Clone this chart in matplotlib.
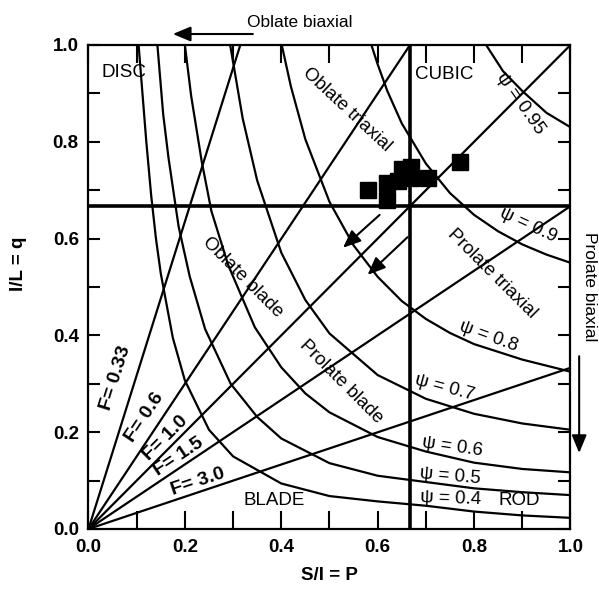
import matplotlib
matplotlib.use("Agg")
import matplotlib.pyplot as plt
import numpy as np

plt.rcParams['font.family'] = ['Liberation Sans', 'DejaVu Sans']

# ---- data (p = S/I, q = I/L) ----
psi40_p = [0.104, 0.12, 0.13, 0.14, 0.15, 0.175, 0.2, 0.25, 0.3, 0.4, 0.5, 0.6, 0.7, 0.8, 0.9, 1.0]
psi40_q = [1.0, 0.80, 0.69, 0.60, 0.528, 0.395, 0.307, 0.205, 0.150, 0.094, 0.068, 0.057, 0.048, 0.036, 0.028, 0.023]

psi50_p = [0.143, 0.155, 0.166, 0.187, 0.21, 0.242, 0.295, 0.35, 0.4, 0.5, 0.6, 0.7, 0.8, 0.9, 1.0]
psi50_q = [1.0, 0.857, 0.767, 0.625, 0.522, 0.413, 0.300, 0.2315, 0.187, 0.136, 0.110, 0.097, 0.084, 0.076, 0.070]

psi60_p = [0.200, 0.213, 0.235, 0.255, 0.29, 0.345, 0.4, 0.45, 0.5, 0.6, 0.7, 0.8, 0.9, 1.0]
psi60_q = [1.0, 0.895, 0.759, 0.657, 0.545, 0.417, 0.334, 0.280, 0.241, 0.190, 0.160, 0.137, 0.124, 0.117]

psi70_p = [0.294, 0.32, 0.35, 0.4, 0.45, 0.5, 0.6, 0.7, 0.8, 0.9, 1.0]
psi70_q = [1.0, 0.848, 0.720, 0.571, 0.473, 0.404, 0.318, 0.269, 0.238, 0.218, 0.205]

psi80_p = [0.401, 0.42, 0.45, 0.5, 0.55, 0.6, 0.65, 0.7, 0.75, 0.8, 0.9, 1.0]
psi80_q = [1.0, 0.914, 0.805, 0.676, 0.586, 0.521, 0.471, 0.434, 0.405, 0.382, 0.350, 0.325]

psi90_p = [0.587, 0.6, 0.62, 0.65, 0.7, 0.75, 0.8, 0.85, 0.9, 0.95, 1.0]
psi90_q = [1.0, 0.960, 0.905, 0.838, 0.755, 0.694, 0.649, 0.615, 0.588, 0.567, 0.550]

psi95_p = [0.825, 0.86, 0.9, 0.95, 1.0]
psi95_q = [1.0, 0.946, 0.905, 0.860, 0.830]

psi_curves = [(psi40_p, psi40_q), (psi50_p, psi50_q), (psi60_p, psi60_q), (psi70_p, psi70_q),
              (psi80_p, psi80_q), (psi90_p, psi90_q), (psi95_p, psi95_q)]

# shape-factor lines F from origin to end points
F_labels = ["F= 0.33", "F= 0.6", "F= 1.0", "F= 1.5", "F= 3.0"]
F_end_p = [0.315, 0.667, 1.0, 1.0, 1.0]
F_end_q = [1.0, 1.0, 1.0, 0.667, 0.333]

# class boundaries
boundary = 2.0 / 3.0

# measured particles
pts_p = [0.770, 0.704, 0.619, 0.643, 0.619, 0.579, 0.650, 0.669, 0.669]
pts_q = [0.758, 0.725, 0.715, 0.719, 0.680, 0.700, 0.744, 0.748, 0.725]

# trend arrows (start -> end)
arr_p0 = [0.604, 0.662]
arr_q0 = [0.649, 0.603]
arr_p1 = [0.528, 0.579]
arr_q1 = [0.581, 0.525]

x_ticks = [0.0, 0.2, 0.4, 0.6, 0.8, 1.0]
x_tick_labels = ["0.0", "0.2", "0.4", "0.6", "0.8", "1.0"]
y_ticks = [0.0, 0.2, 0.4, 0.6, 0.8, 1.0]
y_tick_labels = ["0.0", "0.2", "0.4", "0.6", "0.8", "1.0"]
minor_ticks = [0.1, 0.3, 0.5, 0.7, 0.9]

# ---- figure ----
fig = plt.figure(figsize=(5.99, 5.89), dpi=100)
ax = fig.add_axes([0.1477, 0.1019, 0.8047, 0.8217])
ax.set_xlim(0, 1)
ax.set_ylim(0, 1)

lw = 1.6
for cp, cq in psi_curves:
    ax.plot(cp, cq, color='k', lw=lw, solid_joinstyle='round')

for ep, eq in zip(F_end_p, F_end_q):
    ax.plot([0, ep], [0, eq], color='k', lw=lw)

ax.axhline(boundary, color='k', lw=2.6)
ax.axvline(boundary, color='k', lw=2.6)

ax.plot(pts_p, pts_q, linestyle='none', marker='s', markersize=11,
        markerfacecolor='k', markeredgecolor='k', zorder=5)

head = dict(arrowstyle='-|>,head_length=0.6,head_width=0.25', color='k', lw=1.5,
            mutation_scale=18, shrinkA=0, shrinkB=0)
for a, b, c, d in zip(arr_p0, arr_q0, arr_p1, arr_q1):
    ax.annotate('', xy=(c, d), xytext=(a, b), arrowprops=head)

# outside arrows
ax.annotate('', xy=(0.175, 1.0227), xytext=(0.341, 1.0227), arrowprops=head,
            annotation_clip=False)
ax.annotate('', xy=(1.018, 0.157), xytext=(1.018, 0.357), arrowprops=head,
            annotation_clip=False)
ax.text(0.3285, 1.0475, "Oblate biaxial", fontsize=12.5, ha='left', va='center',
        clip_on=False)
ax.text(1.04, 0.50, "Prolate biaxial", fontsize=12.5, ha='center', va='center',
        rotation=-90, clip_on=False)

# ticks
ax.set_xticks(x_ticks)
ax.set_xticklabels(x_tick_labels, fontsize=13.5, fontweight='bold')
ax.set_yticks(y_ticks)
ax.set_yticklabels(y_tick_labels, fontsize=13.5, fontweight='bold')
ax.set_xticks(minor_ticks, minor=True)
ax.set_yticks(minor_ticks, minor=True)
ax.tick_params(axis='x', which='both', direction='in', length=13, width=1.5,
               top=True, bottom=True, pad=7)
ax.tick_params(axis='y', which='both', direction='in', length=8.5, width=1.5,
               left=True, right=True, pad=7)
for s in ax.spines.values():
    s.set_linewidth(1.6)

ax.set_xlabel("S/I = P", fontsize=13.5, fontweight='bold', labelpad=8)
ax.text(-0.145, 0.547, "I/L = q", fontsize=13.5, fontweight='bold', rotation=90,
        ha='center', va='center', transform=ax.transAxes)

# region labels
fs = 13.5
ax.text(0.028, 0.944, "DISC", fontsize=fs, ha='left', va='center')
ax.text(0.677, 0.939, "CUBIC", fontsize=fs, ha='left', va='center')
ax.text(0.385, 0.058, "BLADE", fontsize=fs, ha='center', va='center')
ax.text(0.893, 0.059, "ROD", fontsize=fs, ha='center', va='center')
ax.text(0.537, 0.866, "Oblate triaxial", fontsize=fs, ha='center', va='center', rotation=-43)
ax.text(0.319, 0.521, "Oblate blade", fontsize=fs, ha='center', va='center', rotation=-45)
ax.text(0.524, 0.305, "Prolate blade", fontsize=fs, ha='center', va='center', rotation=-45)
ax.text(0.837, 0.528, "Prolate triaxial", fontsize=fs, ha='center', va='center', rotation=-45)

# psi labels
psi_text = ["ψ = 0.4", "ψ = 0.5", "ψ = 0.6", "ψ = 0.7", "ψ = 0.8", "ψ = 0.9", "ψ = 0.95"]
psi_lp = [0.751, 0.751, 0.755, 0.739, 0.830, 0.913, 0.896]
psi_lq = [0.062, 0.109, 0.169, 0.291, 0.397, 0.628, 0.880]
psi_rot = [-2, -5, -8, -15, -20, -25, -55]
for t, a, b, r in zip(psi_text, psi_lp, psi_lq, psi_rot):
    ax.text(a, b, t, fontsize=fs, ha='center', va='center', rotation=r)

# F labels
F_lp = [0.057, 0.117, 0.159, 0.187, 0.228]
F_lq = [0.312, 0.231, 0.188, 0.150, 0.098]
F_rot = [72.5, 56.4, 45, 33.8, 18.5]
for t, a, b, r in zip(F_labels, F_lp, F_lq, F_rot):
    ax.text(a, b, t, fontsize=14, fontweight='bold', ha='center', va='center', rotation=r)

fig.savefig("out.png", dpi=100)
